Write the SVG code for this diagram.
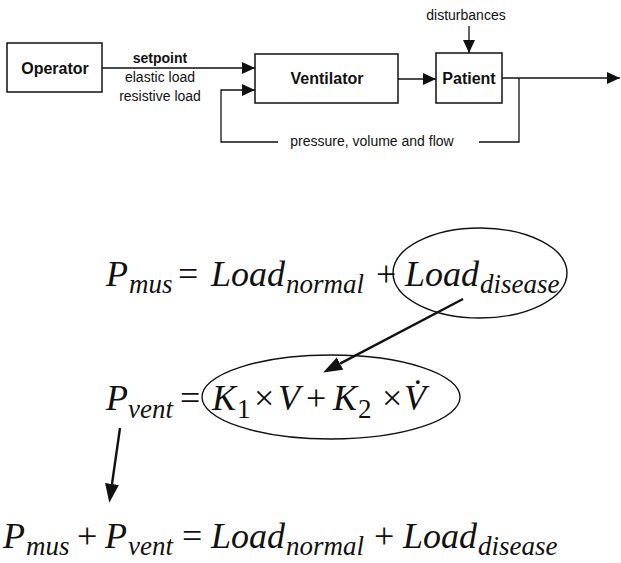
<svg xmlns="http://www.w3.org/2000/svg" width="621" height="563" viewBox="0 0 621 563">
  <style>
    .box { fill: #fff; stroke: #111; stroke-width: 1.5; }
    .lbl { font-family: "Liberation Sans", Arial, sans-serif; font-weight: bold; font-size: 16px; fill: #111; }
    .sm { font-family: "Liberation Sans", Arial, sans-serif; font-size: 14px; fill: #111; }
    .wire { fill: none; stroke: #111; stroke-width: 1.3; }
    .thick { fill: none; stroke: #111; stroke-width: 2.4; }
    .eq { font-family: "Liberation Serif", "Times New Roman", serif; font-style: italic; font-size: 36px; fill: #111; }
    .sub { font-size: 27px; }
    .op { font-style: normal; }
    .ring { fill: none; stroke: #111; stroke-width: 1.4; }
  </style>
  <defs>
    <marker id="head" markerUnits="userSpaceOnUse" markerWidth="14" markerHeight="12" refX="13" refY="6" orient="auto">
      <path d="M0,0 L13,6 L0,12 z" fill="#111"/>
    </marker>
    <marker id="bighead" markerUnits="userSpaceOnUse" markerWidth="20" markerHeight="15" refX="0" refY="7" orient="auto">
      <path d="M0,0 L19,7 L0,14 z" fill="#111"/>
    </marker>
  </defs>

  <!-- block diagram: connectors -->
  <g id="connectors">
    <line class="wire" x1="102" y1="68" x2="255" y2="68" marker-end="url(#head)"/>
    <line class="wire" x1="398" y1="79" x2="436" y2="79" marker-end="url(#head)"/>
    <line class="wire" x1="469" y1="26" x2="469" y2="53" marker-end="url(#head)"/>
    <line class="wire" x1="502" y1="78" x2="620" y2="78" marker-end="url(#head)"/>
    <polyline class="wire" points="519,78 519,142 479,142"/>
    <polyline class="wire" points="278,142 221,142 221,90 255,90" marker-end="url(#head)"/>
    <!-- equation arrows -->
    <line class="thick" x1="463" y1="299" x2="340" y2="363.6" marker-end="url(#bighead)"/>
    <line class="thick" x1="120" y1="428" x2="112" y2="484" marker-end="url(#bighead)"/>
  </g>

  <!-- block diagram: nodes -->
  <g id="operator">
    <rect class="box" x="7" y="43" width="95" height="49"/>
    <text class="lbl" x="55" y="74" text-anchor="middle">Operator</text>
  </g>
  <g id="ventilator">
    <rect class="box" x="255" y="54" width="143" height="49"/>
    <text class="lbl" x="327" y="84" text-anchor="middle">Ventilator</text>
  </g>
  <g id="patient">
    <rect class="box" x="436" y="53" width="66" height="50"/>
    <text class="lbl" x="469" y="84" text-anchor="middle">Patient</text>
  </g>

  <!-- signal labels -->
  <g id="labels">
    <text class="sm" x="160" y="63" text-anchor="middle" font-weight="bold">setpoint</text>
    <text class="sm" x="160" y="82" text-anchor="middle">elastic load</text>
    <text class="sm" x="160" y="101" text-anchor="middle">resistive load</text>
    <text class="sm" x="466" y="20" text-anchor="middle" font-size="15.5">disturbances</text>
    <text class="sm" x="372" y="146" text-anchor="middle" font-size="15.5">pressure, volume and flow</text>
  </g>

  <!-- equations -->
  <g id="eq-pmus">
    <text class="eq" y="286"><tspan x="106">P</tspan><tspan x="129" dy="7" class="sub">mus</tspan><tspan x="178" dy="-7" class="op">=</tspan><tspan x="211">Load</tspan><tspan x="286" dy="7" class="sub">normal</tspan><tspan x="376" dy="-7" class="op">+</tspan><tspan x="405">Load</tspan><tspan x="480" dy="7" class="sub">disease</tspan></text>
    <ellipse class="ring" cx="480" cy="273" rx="87" ry="45"/>
  </g>
  <g id="eq-pvent">
    <text class="eq" y="410"><tspan x="106">P</tspan><tspan x="128" dy="8" class="sub">vent</tspan><tspan x="180" dy="-8" class="op">=</tspan><tspan x="212">K</tspan><tspan x="237" dy="8" class="sub op">1</tspan><tspan x="254" dy="-8" class="op">×</tspan><tspan x="278">V</tspan><tspan x="306" class="op">+</tspan><tspan x="333">K</tspan><tspan x="358" dy="8" class="sub op">2</tspan><tspan x="382" dy="-8" class="op">×</tspan><tspan x="404">V&#x307;</tspan></text>
    <ellipse class="ring" cx="331" cy="397" rx="129" ry="42"/>
  </g>
  <g id="eq-balance">
    <text class="eq" y="548"><tspan x="3">P</tspan><tspan x="26" dy="7" class="sub">mus</tspan><tspan x="77" dy="-7" class="op">+</tspan><tspan x="105">P</tspan><tspan x="128" dy="7" class="sub">vent</tspan><tspan x="182" dy="-7" class="op">=</tspan><tspan x="211">Load</tspan><tspan x="286" dy="7" class="sub">normal</tspan><tspan x="374" dy="-7" class="op">+</tspan><tspan x="403">Load</tspan><tspan x="478" dy="7" class="sub">disease</tspan></text>
  </g>
</svg>
